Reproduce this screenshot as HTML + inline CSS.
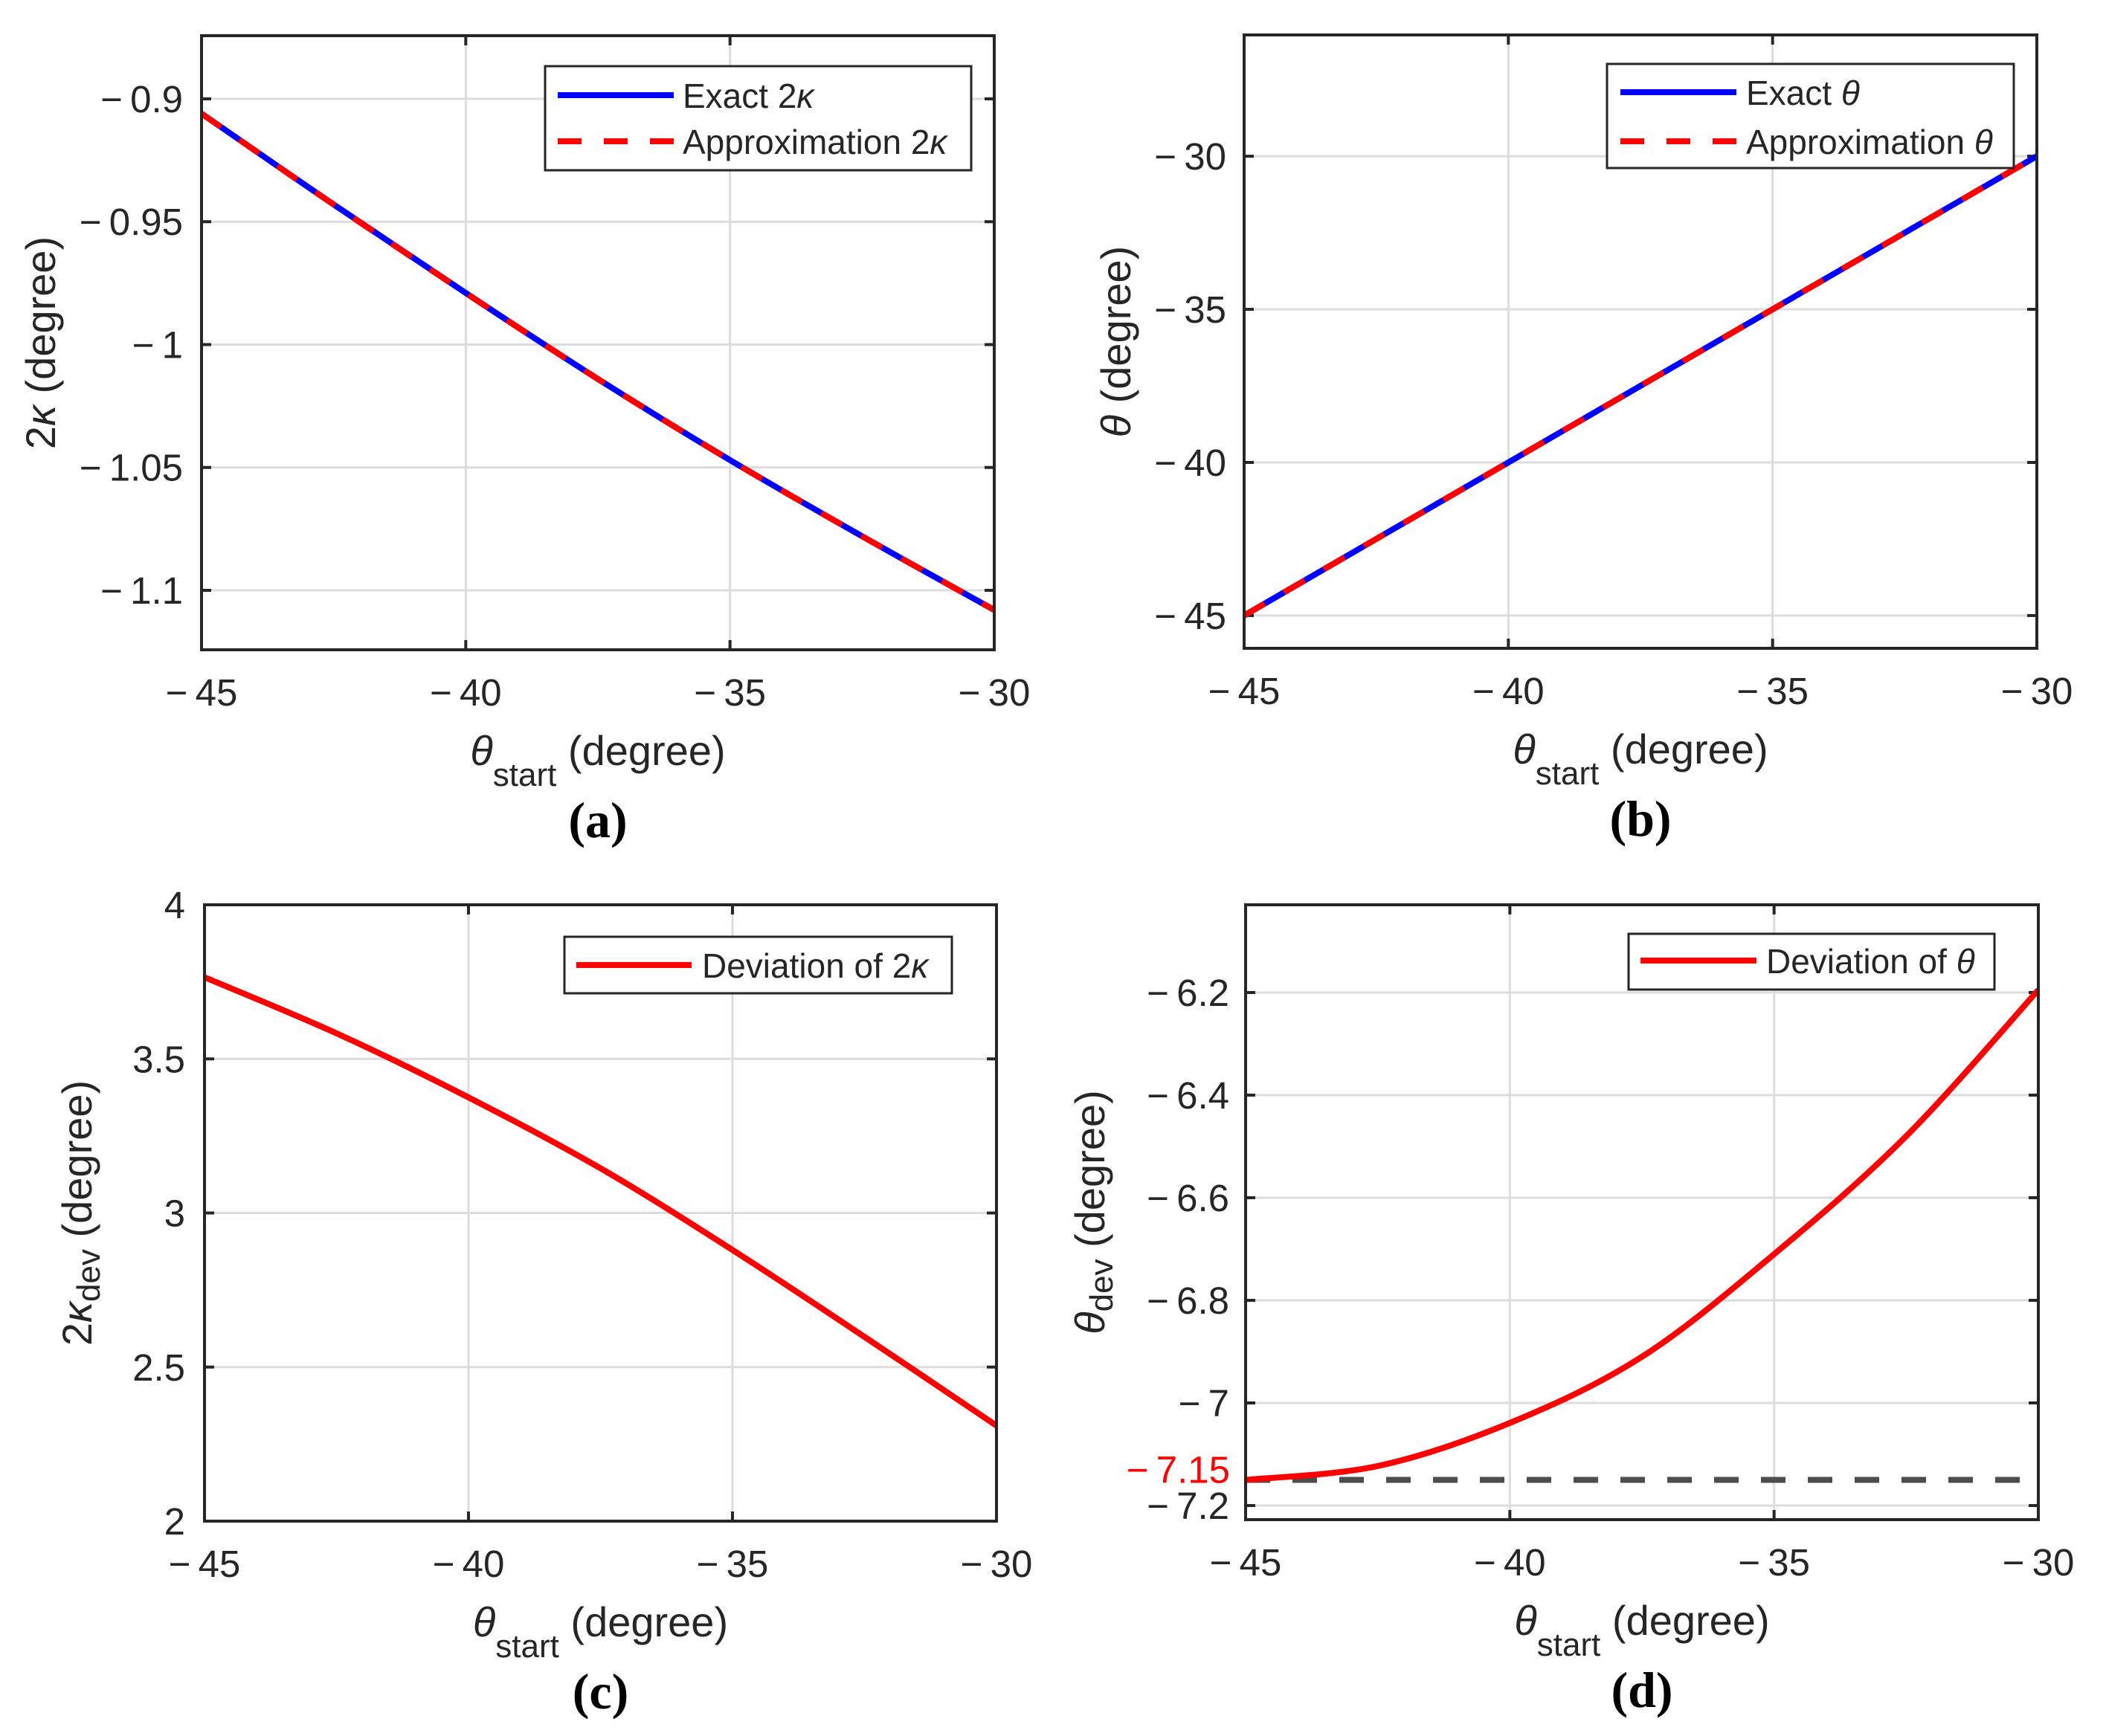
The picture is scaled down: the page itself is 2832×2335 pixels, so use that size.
<!DOCTYPE html>
<html><head><meta charset="utf-8">
<style>
html,body{margin:0;padding:0;background:#fff;}
svg{display:block;}
text{font-family:"Liberation Sans",sans-serif;fill:#262626;}
</style></head>
<body>
<svg id="fig" width="2832" height="2335" viewBox="0 0 2832 2335" xmlns="http://www.w3.org/2000/svg"></svg>
<script>
// ---- data ----
const xVals = [-45, -42.5, -40, -37.5, -35, -32.5, -30];
const kappaExact = [-0.906, -0.943, -0.979, -1.014, -1.047, -1.078, -1.108];
const kappaApprox = [-0.906, -0.943, -0.979, -1.014, -1.047, -1.078, -1.108];
const thetaExact = [-45, -42.5, -40, -37.5, -35, -32.5, -30];
const thetaApprox = [-45, -42.5, -40, -37.5, -35, -32.5, -30];
const kappaDev = [3.765, 3.583, 3.375, 3.145, 2.88, 2.598, 2.31];
const thetaDev = [-7.15, -7.123, -7.039, -6.91, -6.71, -6.48, -6.195];
const thetaDevMin = -7.15;
const xTicks = [-45, -40, -35, -30];
const yTicksA = [-0.9, -0.95, -1, -1.05, -1.1];
const yTicksB = [-30, -35, -40, -45];
const yTicksC = [4, 3.5, 3, 2.5, 2];
const yTicksD = [-6.2, -6.4, -6.6, -6.8, -7, -7.2];

const NS = "http://www.w3.org/2000/svg";
const fig = document.getElementById('fig');
function mk(tag, attrs, parent) {
  const e = document.createElementNS(NS, tag);
  for (const k in attrs) e.setAttribute(k, attrs[k]);
  (parent || fig).appendChild(e);
  return e;
}
function fmt(v) {
  const s = String(Math.abs(v));
  return v < 0 ? "\u2212\u2009" + s : s;
}
function smoothPath(pts) {
  let d = "M" + pts[0][0] + "," + pts[0][1];
  for (let i = 0; i < pts.length - 1; i++) {
    const p0 = pts[Math.max(0, i - 1)], p1 = pts[i], p2 = pts[i + 1], p3 = pts[Math.min(pts.length - 1, i + 2)];
    const c1x = p1[0] + (p2[0] - p0[0]) / 6, c1y = p1[1] + (p2[1] - p0[1]) / 6;
    const c2x = p2[0] - (p3[0] - p1[0]) / 6, c2y = p2[1] - (p3[1] - p1[1]) / 6;
    d += " C" + c1x + "," + c1y + " " + c2x + "," + c2y + " " + p2[0] + "," + p2[1];
  }
  return d;
}

function panel(cfg) {
  const g = mk('g', {});
  
  
  const L = cfg.L, R = cfg.R, T = cfg.T, B = cfg.B;
  const sx = v => L + (v - (-45)) / 15 * (R - L);
  const sy = v => T + (cfg.ymax - v) / (cfg.ymax - cfg.ymin) * (B - T);
  xTicks.forEach(t => {
    const l = mk('line', {x1: sx(t), x2: sx(t), y1: T, y2: B, stroke: '#dcdcdc', 'stroke-width': 3}, g);
    
    
  });
  cfg.yTicks.forEach(t => {
    const l = mk('line', {x1: L, x2: R, y1: sy(t), y2: sy(t), stroke: '#dcdcdc', 'stroke-width': 3}, g);
    
    
  });
  xTicks.forEach(t => {
    mk('line', {x1: sx(t), x2: sx(t), y1: B, y2: B - 13, stroke: '#262626', 'stroke-width': 4}, g);
    mk('line', {x1: sx(t), x2: sx(t), y1: T, y2: T + 13, stroke: '#262626', 'stroke-width': 4}, g);
    const tx = mk('text', {x: sx(t), y: B + 75, 'font-size': 51, 'text-anchor': 'middle'}, g);
    tx.textContent = fmt(t);
    
    
  });
  cfg.yTicks.forEach(t => {
    mk('line', {x1: L, x2: L + 13, y1: sy(t), y2: sy(t), stroke: '#262626', 'stroke-width': 4}, g);
    mk('line', {x1: R, x2: R - 13, y1: sy(t), y2: sy(t), stroke: '#262626', 'stroke-width': 4}, g);
    const tx = mk('text', {x: cfg.tickRight, y: sy(t) + 18, 'font-size': 51, 'text-anchor': 'end'}, g);
    tx.textContent = fmt(t);
    
    
  });
  const clip = 'clip-' + cfg.name;
  const cp = mk('clipPath', {id: clip}, g);
  mk('rect', {x: L, y: T, width: R - L, height: B - T}, cp);
  const sg = mk('g', {'clip-path': 'url(#' + clip + ')'}, g);
  if (cfg.extra) cfg.extra(sg, sx, sy);
  cfg.series.forEach(s => {
    const pts = xVals.map((x, i) => [sx(x), sy(s.data[i])]);
    const p = mk('path', {d: smoothPath(pts), fill: 'none', stroke: s.color, 'stroke-width': 8, 'stroke-linejoin': 'round'}, sg);
    if (s.dash) p.setAttribute('stroke-dasharray', '32 30');
    
    
  });
  if (cfg.after) cfg.after(g, sx, sy);
  const fr = mk('rect', {x: L, y: T, width: R - L, height: B - T, fill: 'none', stroke: '#262626', 'stroke-width': 4}, g);
  
  
  const lg = mk('g', {}, g);
  
  
  const lb = cfg.legend;
  mk('rect', {x: lb.x1, y: lb.y1, width: lb.x2 - lb.x1, height: lb.y2 - lb.y1, fill: '#fff', stroke: '#262626', 'stroke-width': 3}, lg);
  lb.items.forEach(it => {
    const ent = mk('g', {}, lg);
    
    
    const ln = mk('line', {x1: lb.sx1, x2: lb.sx2, y1: it.y, y2: it.y, stroke: it.color, 'stroke-width': 8}, ent);
    if (it.dash) ln.setAttribute('stroke-dasharray', '32 30');
    const tx = mk('text', {x: lb.tx, y: it.y + 17, 'font-size': 46, fill: '#000'}, ent);
    tx.innerHTML = it.label;
  });
  const xt = mk('text', {x: (L + R) / 2, y: B + 155, 'font-size': 56, 'text-anchor': 'middle'}, g);
  xt.innerHTML = '<tspan font-style="italic">θ</tspan><tspan font-size="44" dy="28">start</tspan><tspan dy="-28"> (degree)</tspan>';
  
  
  const cy = (T + B) / 2;
  const yt = mk('text', {x: cfg.ylabelX, y: cy, 'font-size': 56, 'text-anchor': 'middle', transform: 'rotate(-90 ' + cfg.ylabelX + ' ' + cy + ')', 'dominant-baseline': 'middle'}, g);
  yt.innerHTML = cfg.ylabel;
  
  
  const cap = mk('text', {x: (L + R) / 2, y: B + 252, 'font-size': 68, 'font-weight': 'bold', 'text-anchor': 'middle', style: 'font-family:"Liberation Serif",serif;fill:#000'}, g);
  cap.textContent = cfg.caption;
  
  
}

panel({name: 'panel-a', L: 271, R: 1337, T: 48, B: 874, ymin: -1.1242, ymax: -0.8743, yTicks: yTicksA, tickRight: 246,
  ylabelX: 59, ylabel: '2<tspan font-style="italic">κ</tspan> (degree)', caption: '(a)',
  series: [{id: 'exact-2kappa-line', data: kappaExact, color: '#0000ff'}, {id: 'approx-2kappa-line', data: kappaApprox, color: '#ff0000', dash: true}],
  legend: {x1: 733, x2: 1306, y1: 89, y2: 229, sx1: 750, sx2: 906, tx: 918,
    items: [{y: 128, color: '#0000ff', label: 'Exact 2<tspan font-style="italic">κ</tspan>'}, {y: 190, color: '#ff0000', dash: true, label: 'Approximation 2<tspan font-style="italic">κ</tspan>'}]}});

panel({name: 'panel-b', L: 1673, R: 2739, T: 47, B: 872, ymin: -46.07, ymax: -26.04, yTicks: yTicksB, tickRight: 1649,
  ylabelX: 1505, ylabel: '<tspan font-style="italic">θ</tspan> (degree)', caption: '(b)',
  series: [{id: 'exact-theta-line', data: thetaExact, color: '#0000ff'}, {id: 'approx-theta-line', data: thetaApprox, color: '#ff0000', dash: true}],
  legend: {x1: 2161, x2: 2708, y1: 86, y2: 226, sx1: 2179, sx2: 2335, tx: 2348,
    items: [{y: 124, color: '#0000ff', label: 'Exact <tspan font-style="italic">θ</tspan>'}, {y: 190, color: '#ff0000', dash: true, label: 'Approximation <tspan font-style="italic">θ</tspan>'}]}});

panel({name: 'panel-c', L: 275, R: 1340, T: 1217, B: 2046, ymin: 2, ymax: 4, yTicks: yTicksC, tickRight: 249,
  ylabelX: 108, ylabel: '2<tspan font-style="italic">κ</tspan><tspan font-size="44" dy="14">dev</tspan><tspan dy="-14"> (degree)</tspan>', caption: '(c)',
  series: [{id: 'kappa-deviation-line', data: kappaDev, color: '#ff0000'}],
  legend: {x1: 759, x2: 1280, y1: 1260, y2: 1336, sx1: 775, sx2: 930, tx: 944,
    items: [{y: 1298, color: '#ff0000', label: 'Deviation of 2<tspan font-style="italic">κ</tspan>'}]}});

panel({name: 'panel-d', L: 1675, R: 2741, T: 1217, B: 2044, ymin: -7.2275, ymax: -6.029, yTicks: yTicksD, tickRight: 1653,
  ylabelX: 1470, ylabel: '<tspan font-style="italic">θ</tspan><tspan font-size="44" dy="14">dev</tspan><tspan dy="-14"> (degree)</tspan>', caption: '(d)',
  series: [{id: 'theta-deviation-line', data: thetaDev, color: '#ff0000'}],
  extra: function (sg, sx, sy) {
    const l = mk('line', {x1: sx(-45), x2: sx(-30.35), y1: sy(thetaDevMin), y2: sy(thetaDevMin), stroke: '#4d4d4d', 'stroke-width': 8, 'stroke-dasharray': '33 30'}, sg);
    
    
  },
  after: function (g, sx, sy) {
    const t = mk('text', {x: 1654, y: sy(thetaDevMin) + 4, 'font-size': 51, 'text-anchor': 'end', style: 'fill:#ff0000'}, g);
    t.textContent = fmt(thetaDevMin);
    
    
  },
  legend: {x1: 2190, x2: 2682, y1: 1256, y2: 1331, sx1: 2206, sx2: 2362, tx: 2375,
    items: [{y: 1292, color: '#ff0000', label: 'Deviation of <tspan font-style="italic">θ</tspan>'}]}});
</script>
</body></html>
